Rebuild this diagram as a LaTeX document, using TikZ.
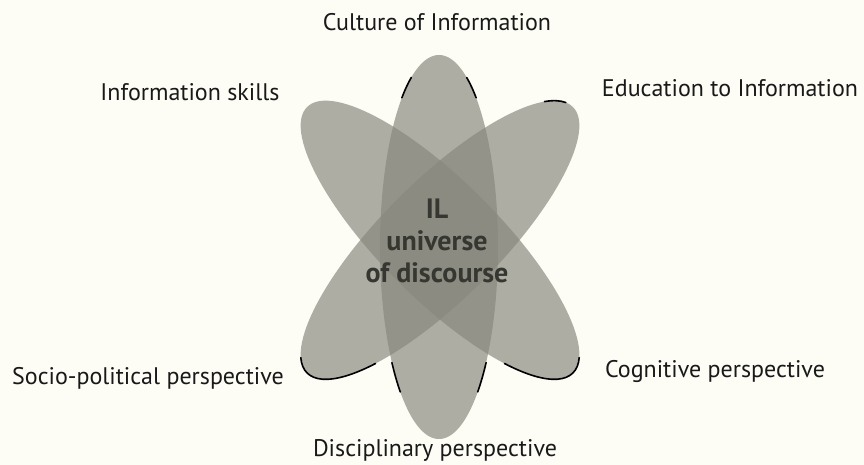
\documentclass[tikz,border=0pt]{standalone}
\usepackage{fontspec}
\setmainfont{PT Sans}
\definecolor{paper}{RGB}{253,253,246}
\definecolor{petal}{RGB}{136,136,126}
\definecolor{ink}{RGB}{25,25,25}
\definecolor{coreink}{RGB}{55,55,50}
\begin{document}
\begin{tikzpicture}[x=1pt,y=1pt,
  petalfill/.style={fill=petal,fill opacity=0.68},
  rim/.style={draw=black,line width=1.6pt,line cap=round},
  outer/.style={font=\fontsize{24}{28}\selectfont,text=ink,inner sep=0pt},
  core/.style={font=\bfseries\fontsize{28}{32}\selectfont,text=coreink,align=center,inner sep=0pt}]
\fill[paper] (0,0) rectangle (864,465);
\useasboundingbox (0,0) rectangle (864,465);

% the three petals
\fill[petalfill] (439,218) ellipse[x radius=59, y radius=192];
\fill[petalfill, rotate around={45:(440,225)}] (440,225) ellipse[x radius=188, y radius=59];
\fill[petalfill, rotate around={-45:(440,225)}] (440,225) ellipse[x radius=188, y radius=59];

% outline fragments along the petal rims
\begin{scope}[shift={(439,218)},rotate=90]
  \draw[rim] (28:192 and 59) arc[start angle=28, end angle=39, x radius=192, y radius=59];
  \draw[rim] (-28:192 and 59) arc[start angle=-28, end angle=-39, x radius=192, y radius=59];
  \draw[rim] (127:192 and 59) arc[start angle=127, end angle=139, x radius=192, y radius=59];
  \draw[rim] (-127:192 and 59) arc[start angle=-127, end angle=-139, x radius=192, y radius=59];
\end{scope}
\begin{scope}[shift={(440,225)},rotate=45]
  \draw[rim] (165:188 and 59) arc[start angle=165, end angle=225, x radius=188, y radius=59];
  \draw[rim] (8:188 and 59) arc[start angle=8, end angle=24, x radius=188, y radius=59];
\end{scope}
\begin{scope}[shift={(440,225)},rotate=-45]
  \draw[rim] (-45:188 and 59) arc[start angle=-45, end angle=15, x radius=188, y radius=59];
\end{scope}

% labels
\node[core] (il) at (437,224) {IL\\universe\\of discourse};
\node[outer] (culture) at (437,443) {Culture of Information};
\node[outer] (skills) at (190,373) {Information skills};
\node[outer] (education) at (730,377) {Education to Information};
\node[outer] (socio) at (148,87) {Socio-political perspective};
\node[outer] (cognitive) at (715,93) {Cognitive perspective};
\node[outer] (disciplinary) at (435,15) {Disciplinary perspective};
\end{tikzpicture}
\end{document}
